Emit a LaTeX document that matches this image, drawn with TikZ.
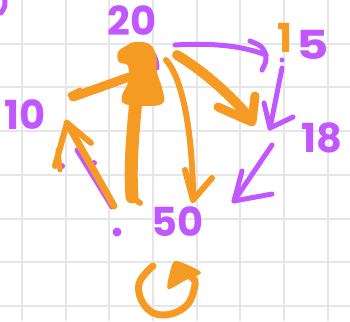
\documentclass[tikz,border=0pt]{standalone}
\usepackage{fontspec}
\setmainfont{Poppins}
\definecolor{pur}{HTML}{C157FF}
\definecolor{org}{HTML}{F59B23}
\definecolor{gridc}{HTML}{E6E6E6}
\begin{document}
\begin{tikzpicture}[x=1pt,y=-1pt,
  num/.style={text=pur,inner sep=0pt,font=\fontsize{40}{40}\selectfont\bfseries},
  pstroke/.style={draw=pur,line width=5pt,line cap=round,line join=round},
  ostroke/.style={draw=org,line width=7pt,line cap=round,line join=round}]
\useasboundingbox (0,0) rectangle (350,321);
\fill[white] (0,0) rectangle (350,321);
% grid
\foreach \i in {0,...,7}{
  \draw[gridc,line width=2pt] ({21.8+43.7*\i},0) -- ({21.8+43.7*\i},321);
}
\foreach \j in {0,...,6}{
  \draw[gridc,line width=2pt] (0,{43.7+43.7*\j}) -- (350,{43.7+43.7*\j});
}
% corner fragment
\draw[pstroke] (5,0) .. controls (5,7) .. (1,13);
% nodes
\node[num] (n20) at (132,21) {20};
\node[num,text=org] (n15a) at (285,38) {1};
\node[num,xscale=1.25] (n15) at (313,45) {5};
\node[num] (n10) at (25,115) {10};
\node[num] (n18) at (322,138) {18};
\node[num] (n50) at (178,222) {50};
\fill[pur] (117,232) circle (4.5);
\fill[pur] (282,60) circle (2.5);
% coordinates
\coordinate (a20r) at (175,45);
\coordinate (a15) at (266,55);
\coordinate (a15b) at (282,68);
\coordinate (a18t) at (270,128);
\coordinate (a18b) at (272,145);
\coordinate (a50r) at (234,201);
\coordinate (a50l) at (114,206);
\coordinate (a10) at (67,123);
% purple arrow under orange (50 -> 10)
\draw[pstroke] (112,207) -- (77,150);
\fill[pur] (62,166) circle (3);
\fill[pur] (94,163) circle (3);
% purple behind blob
\draw[pstroke] (141,46) .. controls (152,48) and (157,58) .. (157,68);
% blob (node 20 mark)
\fill[org] plot[smooth cycle,tension=0.7] coordinates {(135,42) (149,44) (156,55) (157,72) (162,88) (163,103) (145,106) (125,104) (122,96) (128,82) (128,66) (119,62) (118,52) (126,46)};
% orange to 10
\draw[ostroke,line width=9pt] (132,76) -- (73,97);
\draw[ostroke,line width=5pt] (70,95) -- (80,90);
% orange thick down
\draw[ostroke,line width=13pt] (136,100) .. controls (132,140) and (130,170) .. (132,197);
\draw[ostroke,line width=6pt] (132,197) -- (140,203);
% orange curved arrow to 50
\draw[ostroke,line width=6pt] (166,60) .. controls (184,80) and (193,140) .. (193,200);
\draw[ostroke,line width=6pt] (185,170) -- (193,200) -- (212,178);
% orange thick arrow to 15/18 area
\draw[ostroke,line width=10pt] (177,55) .. controls (205,72) and (230,95) .. (250,118);
\draw[ostroke,line width=9pt] (218,107) -- (252,122) -- (255,96);
% purple 20 -> 15
\draw[pstroke] (a20r) .. controls (210,43) and (240,45) .. (a15);
\draw[pstroke] (250,41) .. controls (262,46) .. (a15) .. controls (266,62) .. (262,70);
% purple 15 -> 18
\draw[pstroke] (a15b) -- (a18t);
\draw[pstroke] (264,103) -- (a18t) -- (293,117);
% purple 18 -> 50
\draw[pstroke] (a18b) -- (a50r);
\draw[pstroke] (242,171) -- (a50r) -- (272,194);
% orange 50 -> 10
\draw[ostroke] (a50l) -- (a10);
\draw[ostroke,line width=6pt] (55,166) -- (a10) -- (91,143);
\draw[ostroke,line width=5pt] (58,150) -- (60,170);
% self loop on 50
\draw[ostroke,line width=7pt] plot[smooth,tension=0.7] coordinates {(153,266) (139,284) (145,306) (163,315) (186,306) (195,285) (192,278)};
\fill[org] plot[smooth cycle,tension=0.5] coordinates {(168,289) (170,272) (175,261) (190,266) (201,273) (186,280)};
\end{tikzpicture}
\end{document}
